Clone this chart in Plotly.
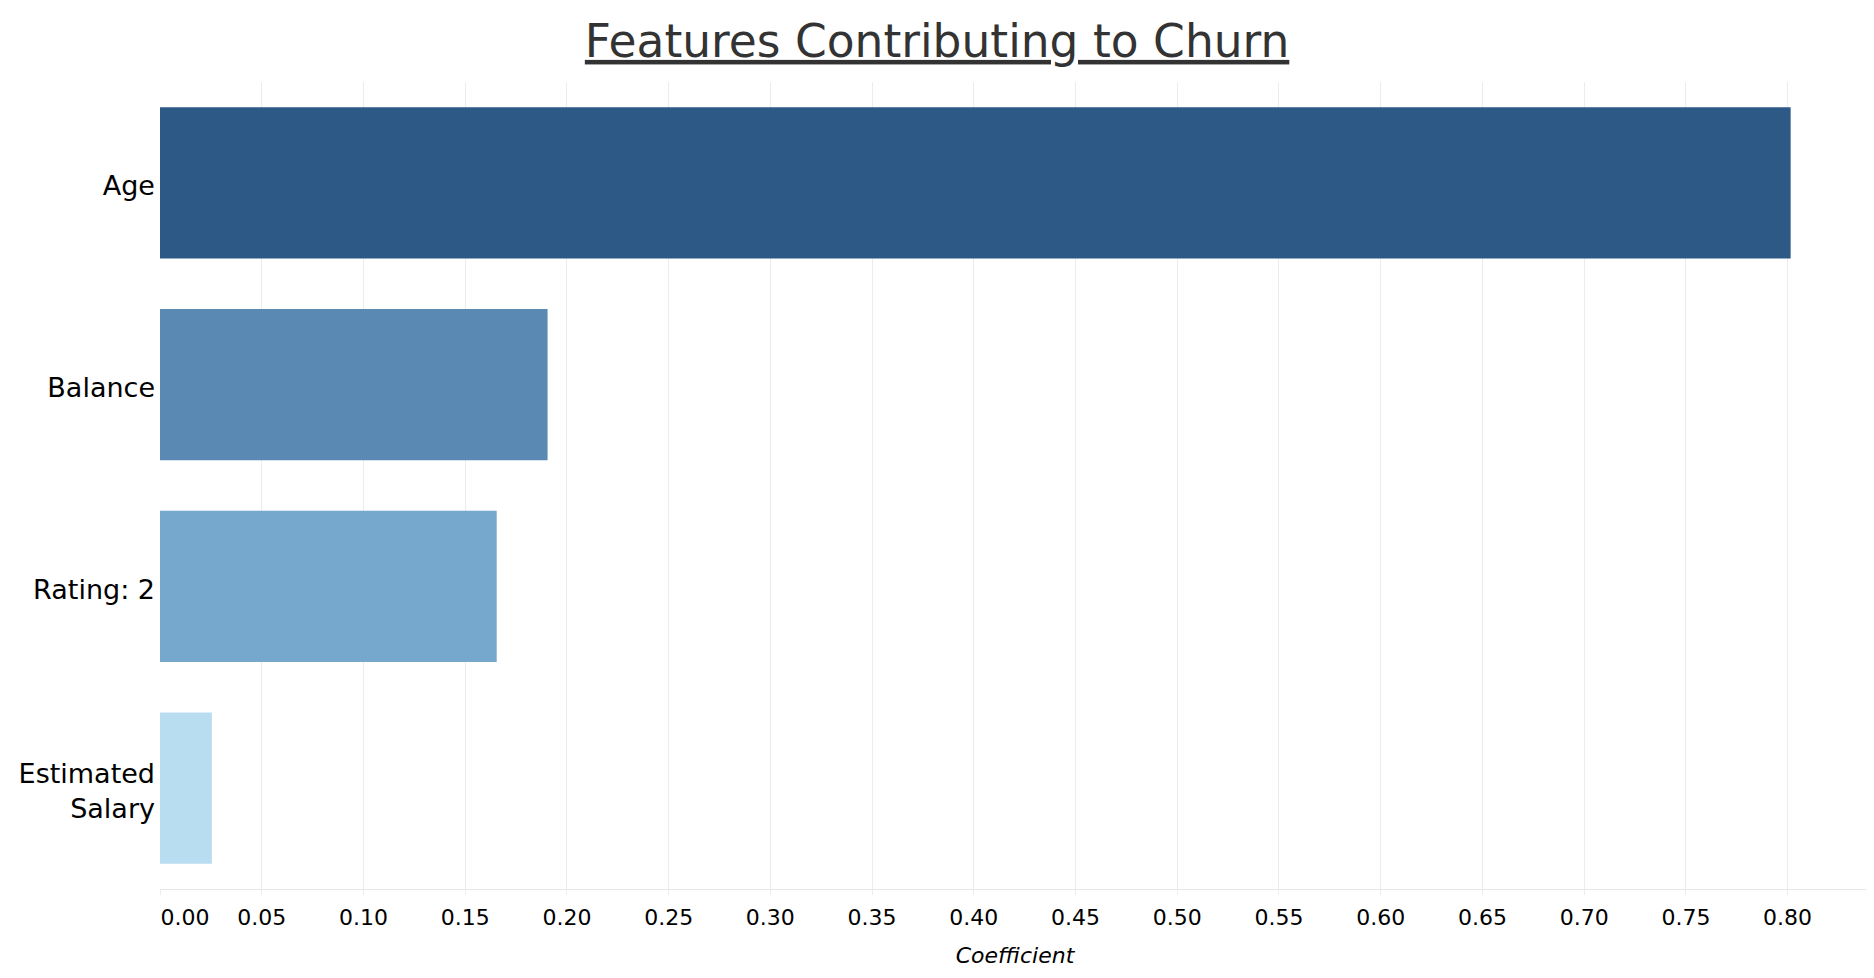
import plotly.graph_objects as go

features = ["Age", "Balance", "Rating: 2", "Estimated<br>Salary"]
coefficients = [0.8015, 0.1905, 0.1655, 0.0255]
bar_colors = ["#2c5985", "#5a8ab4", "#76a7cc", "#b9ddf0"]
tick_values = [0.05, 0.10, 0.15, 0.20, 0.25, 0.30, 0.35, 0.40,
               0.45, 0.50, 0.55, 0.60, 0.65, 0.70, 0.75, 0.80]
tick_labels = [f"{v:.2f}" for v in tick_values]

FONT = "DejaVu Sans"

fig = go.Figure()
fig.add_trace(go.Bar(
    x=coefficients, y=features, orientation="h",
    marker=dict(color=bar_colors, line=dict(width=0)),
    hoverinfo="x+y",
))
# invisible helper trace so the flush "0.00" label axis is drawn
fig.add_trace(go.Scatter(
    x=[0], y=[features[0]], xaxis="x2", mode="markers",
    marker=dict(opacity=0), hoverinfo="skip", showlegend=False,
))

fig.update_layout(
    width=1866, height=970,
    margin=dict(l=152, r=4, t=74, b=89),
    paper_bgcolor="white", plot_bgcolor="white",
    bargap=0.25,
    showlegend=False,
    title=dict(
        text="Features Contributing to Churn",
        x=0.4979, xanchor="center", y=0.966, yanchor="middle",
        font=dict(family=FONT, size=45.5, color="#333333", lineposition="under"),
    ),
    xaxis=dict(
        range=[0, 0.8405], automargin=False,
        tickvals=tick_values, ticktext=tick_labels,
        showgrid=True, gridcolor="#ececec", gridwidth=1,
        zeroline=False,
        showline=True, linecolor="#e6e6e6", linewidth=1,
        ticks="outside", ticklen=5, tickcolor="#ececec",
        tickfont=dict(family=FONT, size=22, color="#000000"),
        ticklabelstandoff=4,
        title=dict(text="<i>Coefficient</i>", standoff=18,
                   font=dict(family=FONT, size=22, color="#000000")),
    ),
    xaxis2=dict(
        overlaying="x", matches="x", anchor="y", side="bottom",
        automargin=False,
        tickvals=[0], ticktext=["0.00"], ticklabelshift=25,
        showgrid=True, gridcolor="#ececec", zeroline=False,
        showline=False,
        ticks="outside", ticklen=5, tickcolor="#ececec",
        tickfont=dict(family=FONT, size=22, color="#000000"),
        ticklabelstandoff=4,
    ),
    yaxis=dict(
        autorange="reversed", automargin=False,
        showgrid=False, zeroline=False, showline=False,
        ticks="", ticklabelstandoff=4, ticklabelshift=-3,
        tickfont=dict(family=FONT, size=27, color="#000000"),
    ),
)

fig.write_html("out.html")
